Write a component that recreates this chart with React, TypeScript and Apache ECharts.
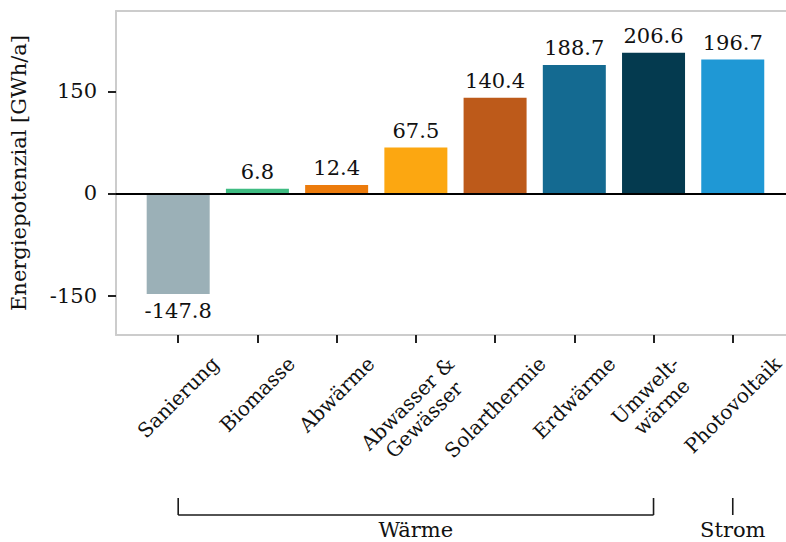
import React, { useEffect, useRef } from "react";
import * as echarts from "echarts";

const categories = [
  "Sanierung",
  "Biomasse",
  "Abwärme",
  "Abwasser &\nGewässer",
  "Solarthermie",
  "Erdwärme",
  "Umwelt-\nwärme",
  "Photovoltaik",
];
const values = [-147.8, 6.8, 12.4, 67.5, 140.4, 188.7, 206.6, 196.7];
const colors = [
  "#9bb0b7",
  "#3fbc82",
  "#ec7b0c",
  "#fca711",
  "#bd5a1a",
  "#146a91",
  "#043a4f",
  "#1f98d5",
];
const yTicks = [-150, 0, 150];
const groups = [
  { name: "Wärme", from: 0, to: 6 },
  { name: "Strom", from: 7, to: 7 },
];
const yTitle = "Energiepotenzial [GWh/a]";

const FONT = '"DejaVu Serif", serif';
const FS = 21;
const FSX = 20;
const TXT = "#111111";
const SPINE = { color: "#cccccc", width: 2 };
const X_MIN = -0.785;
const X_MAX = 7.672;

export default function App() {
  const ref = useRef<HTMLDivElement>(null);
  useEffect(() => {
    if (!ref.current) return;
    const chart = echarts.init(ref.current, null, { renderer: "svg" });
    const option: any = {
      animation: false,
      textStyle: { fontFamily: FONT },
      grid: {
        left: 114.5,
        top: 11,
        right: 0,
        height: 324,
        show: false,
      },
      xAxis: [
        {
          type: "value",
          min: X_MIN,
          max: X_MAX,
          axisLine: { show: true, onZero: false, lineStyle: SPINE },
          splitLine: { show: false },
          axisLabel: { show: false },
          axisTick: {
            show: true,
            customValues: categories.map((_, i) => i),
            length: 8,
            lineStyle: { color: "#222", width: 2 },
          },
        },
        {
          type: "value",
          position: "top",
          min: X_MIN,
          max: X_MAX,
          axisLine: { show: true, onZero: false, lineStyle: SPINE },
          splitLine: { show: false },
          axisLabel: { show: false },
          axisTick: { show: false },
        },
      ],
      yAxis: {
        type: "value",
        min: -208,
        max: 268,
        name: yTitle,
        nameLocation: "middle",
        nameGap: 87,
        nameTextStyle: { fontFamily: FONT, fontSize: FS, color: TXT },
        axisLine: { show: true, onZero: false, lineStyle: SPINE },
        splitLine: { show: false },
        axisTick: {
          show: true,
          customValues: yTicks,
          length: 8,
          lineStyle: { color: "#222", width: 2 },
        },
        axisLabel: {
          customValues: yTicks,
          margin: 19,
          fontFamily: FONT,
          fontSize: FS,
          color: TXT,
          formatter: (v: number) => String(v),
        },
      },
      series: [
        {
          type: "bar",
          xAxisIndex: 0,
          barWidth: 63,
          data: values.map((v, i) => ({
            value: [i, v],
            itemStyle: { color: colors[i] },
            label: { position: v < 0 ? "bottom" : "top" },
          })),
          label: {
            show: true,
            distance: 6,
            fontFamily: FONT,
            fontSize: FS,
            color: TXT,
            formatter: (p: any) => p.value[1].toFixed(1),
          },
          markLine: {
            silent: true,
            symbol: "none",
            label: { show: false },
            lineStyle: { color: "#000", width: 2, type: "solid" },
            data: [{ yAxis: 0 }],
          },
        },
      ],
    };
    chart.setOption(option);

    const ctx = document.createElement("canvas").getContext("2d")!;
    ctx.font = `${FSX}px ${FONT}`;
    const lineH = FSX * 1.15;
    const spineY = chart.convertToPixel({ yAxisIndex: 0 }, -208) as number;
    const labelTop = spineY + 17;
    const s = Math.SQRT1_2;
    const graphics: any[] = [];
    categories.forEach((c, i) => {
      const px = chart.convertToPixel({ xAxisIndex: 0 }, i) as number;
      const lines = c.split("\n");
      const w = Math.max(...lines.map((l) => ctx.measureText(l).width));
      const h = lines.length * lineH;
      const H = (w + h) * s;
      graphics.push({
        type: "text",
        x: px,
        y: labelTop + H / 2,
        rotation: Math.PI / 4,
        style: {
          text: c,
          fontFamily: FONT,
          fontSize: FSX,
          lineHeight: lineH,
          fill: TXT,
          align: "center",
          verticalAlign: "middle",
        },
      });
    });
    const bY = spineY + 180;
    const tickTop = bY - 17;
    groups.forEach((g) => {
      const x1 = chart.convertToPixel({ xAxisIndex: 0 }, g.from) as number;
      const x2 = chart.convertToPixel({ xAxisIndex: 0 }, g.to) as number;
      const ls = { stroke: "#1a1a1a", lineWidth: 1.6 };
      if (g.to > g.from) {
        graphics.push({ type: "line", shape: { x1, y1: bY, x2, y2: bY }, style: ls });
        graphics.push({ type: "line", shape: { x1, y1: tickTop, x2: x1, y2: bY }, style: ls });
        graphics.push({ type: "line", shape: { x1: x2, y1: tickTop, x2, y2: bY }, style: ls });
      } else {
        graphics.push({ type: "line", shape: { x1, y1: tickTop, x2: x1, y2: bY }, style: ls });
      }
      graphics.push({
        type: "text",
        x: (x1 + x2) / 2,
        y: bY + 4,
        style: {
          text: g.name,
          fontFamily: FONT,
          fontSize: FS,
          fill: TXT,
          align: "center",
          verticalAlign: "top",
        },
      });
    });
    chart.setOption({ graphic: graphics });

    return () => chart.dispose();
  }, []);
  return <div ref={ref} style={{ width: 786, height: 542, position: "absolute", left: 0, top: 0 }} />;
}
